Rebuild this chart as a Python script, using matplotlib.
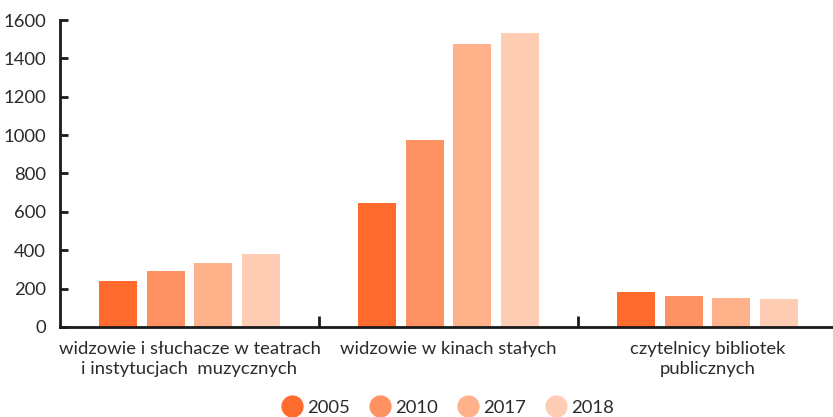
import numpy as np
import matplotlib.pyplot as plt
from matplotlib.lines import Line2D

# dane
categories = ["widzowie i słuchacze w teatrach\ni instytucjach  muzycznych",
              "widzowie w kinach stałych",
              "czytelnicy bibliotek\npublicznych"]
years = ["2005", "2010", "2017", "2018"]
values = {
    "2005": [240, 646, 183],
    "2010": [292, 975, 163],
    "2017": [335, 1475, 152],
    "2018": [382, 1532, 147],
}
colors = ["#ff6a2d", "#ff9262", "#ffb18a", "#ffcdb4"]

plt.rcParams['font.family'] = ['Lato', 'DejaVu Sans']
text_color = "#2b2b2b"
fs = 13.3

fig = plt.figure(figsize=(8.33, 4.17), dpi=100)
ax = fig.add_axes([0.072, 0.216, 0.928, 0.736])

x = np.arange(len(categories))
width = 0.147
step = 0.1834
for i, year in enumerate(years):
    offset = (i - 1.5) * step
    ax.bar(x + offset, values[year], width, color=colors[i], zorder=2)

ax.set_xlim(-0.5, 2.485)
ax.set_ylim(0, 1600)
ax.set_yticks(np.arange(0, 1601, 200))

ax.set_xticks(x)
ax.set_xticklabels(categories, fontsize=fs, color=text_color, linespacing=1.35)
ax.tick_params(axis='x', which='major', length=0, pad=10)
ax.set_xticks([0.5, 1.5], minor=True)
ax.tick_params(axis='x', which='minor', direction='in', length=8, width=2, color='#1a1a1a')
ax.tick_params(axis='y', direction='in', length=6, width=2, color='#1a1a1a',
               labelsize=fs, labelcolor=text_color, pad=10)

for side in ['top', 'right']:
    ax.spines[side].set_visible(False)
for side in ['left', 'bottom']:
    ax.spines[side].set_linewidth(2)
    ax.spines[side].set_color('#1a1a1a')

handles = [Line2D([], [], marker='o', linestyle='', markersize=15,
                  markerfacecolor=c, markeredgecolor=c) for c in colors]
fig.legend(handles, years, loc='center', bbox_to_anchor=(0.538, 0.022), ncol=4,
           frameon=False, fontsize=fs, labelcolor=text_color,
           handlelength=1.0, handletextpad=0.3, columnspacing=1.15, borderaxespad=0)

fig.savefig("out.png", dpi=100)
